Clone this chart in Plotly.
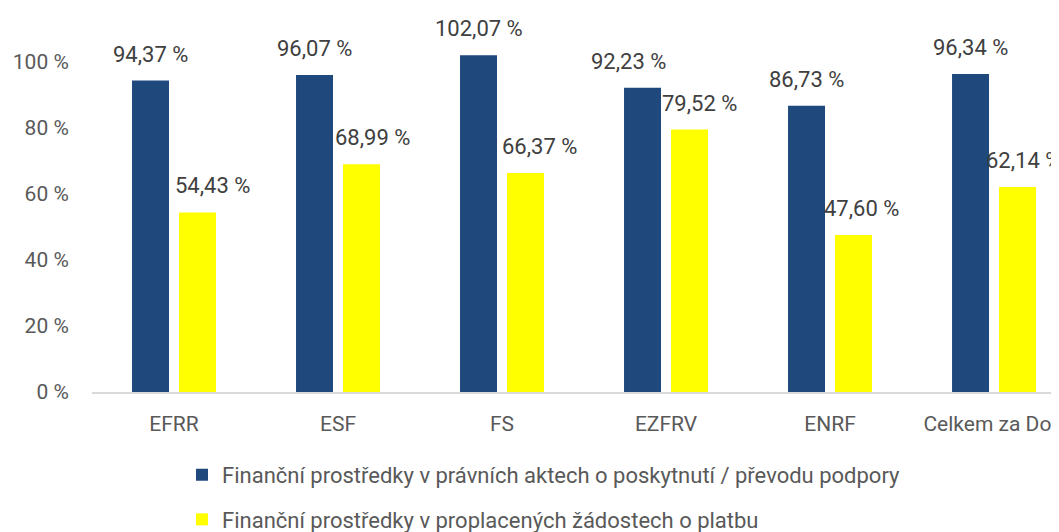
import plotly.graph_objects as go

categories = ["EFRR", "ESF", "FS", "EZFRV", "ENRF", "Celkem za DoP"]
series_names = [
    "Finanční prostředky v právních aktech o poskytnutí / převodu podpory",
    "Finanční prostředky v proplacených žádostech o platbu",
]
values_acts = [94.37, 96.07, 102.07, 92.23, 86.73, 96.34]
values_paid = [54.43, 68.99, 66.37, 79.52, 47.60, 62.14]
y_tick_values = [0, 20, 40, 60, 80, 100]
y_tick_labels = ["0 %", "20 %", "40 %", "60 %", "80 %", "100 %"]

# style
BLUE = "#1F497D"
YELLOW = "#FFFF00"
TEXT = "#595959"
LABEL = "#404040"
FONT = "Roboto"
FS_TICK = 21
FS_LABEL = 22
FS_LEGEND = 22
# horizontal nudges (px) for data labels, mimicking the original label placement
acts_label_shift = [0, 0, 0, -14, 0, 0]
paid_label_shift = [15, 11, 14, 10, 8, 6]

bargap = 0.427
bargroupgap = 0.213
half = (1 - bargap) / 4

def fmt(v):
    return f"{v:.2f}".replace(".", ",") + " %"

fig = go.Figure()
fig.add_trace(go.Bar(x=categories, y=values_acts, name=series_names[0],
                     marker=dict(color=BLUE, line=dict(width=0)), legendgroup="a"))
fig.add_trace(go.Bar(x=categories, y=values_paid, name=series_names[1],
                     marker=dict(color=YELLOW, line=dict(width=0)), legendgroup="b"))

annotations = []
for i, (a, p) in enumerate(zip(values_acts, values_paid)):
    annotations.append(dict(x=i - half, y=a, xref="x", yref="y", text=fmt(a),
                            showarrow=False, yanchor="bottom", yshift=12,
                            xshift=acts_label_shift[i],
                            font=dict(family=FONT, size=FS_LABEL, color=LABEL)))
    annotations.append(dict(x=i + half, y=p, xref="x", yref="y", text=fmt(p),
                            showarrow=False, yanchor="bottom", yshift=12,
                            xshift=paid_label_shift[i],
                            font=dict(family=FONT, size=FS_LABEL, color=LABEL)))

fig.update_layout(
    width=1059, height=532,
    margin=dict(l=84, r=0, t=4, b=148, autoexpand=False),
    paper_bgcolor="white", plot_bgcolor="white",
    barmode="group", bargap=bargap, bargroupgap=bargroupgap,
    font=dict(family=FONT, size=FS_TICK, color=TEXT),
    xaxis=dict(type="category", range=[-0.5, 5.445], showgrid=False,
               showline=True, linecolor="#D9D9D9", linewidth=2,
               ticks="outside", ticklen=12, tickcolor="rgba(0,0,0,0)",
               automargin=False,
               tickfont=dict(family=FONT, size=FS_TICK, color=TEXT)),
    yaxis=dict(range=[0, 115.15], tickvals=y_tick_values, ticktext=y_tick_labels,
               showgrid=False, zeroline=False, showline=False,
               ticks="outside", ticklen=18, tickcolor="rgba(0,0,0,0)",
               automargin=False,
               tickfont=dict(family=FONT, size=FS_TICK, color=TEXT)),
    legend=dict(orientation="v", x=(174 - 84) / 975, xanchor="left",
                y=-0.163, yanchor="top", tracegroupgap=13,
                font=dict(family=FONT, size=FS_LEGEND, color=TEXT),
                itemwidth=30, bgcolor="rgba(0,0,0,0)"),
    annotations=annotations,
    showlegend=True,
)

fig.write_html("out.html")
